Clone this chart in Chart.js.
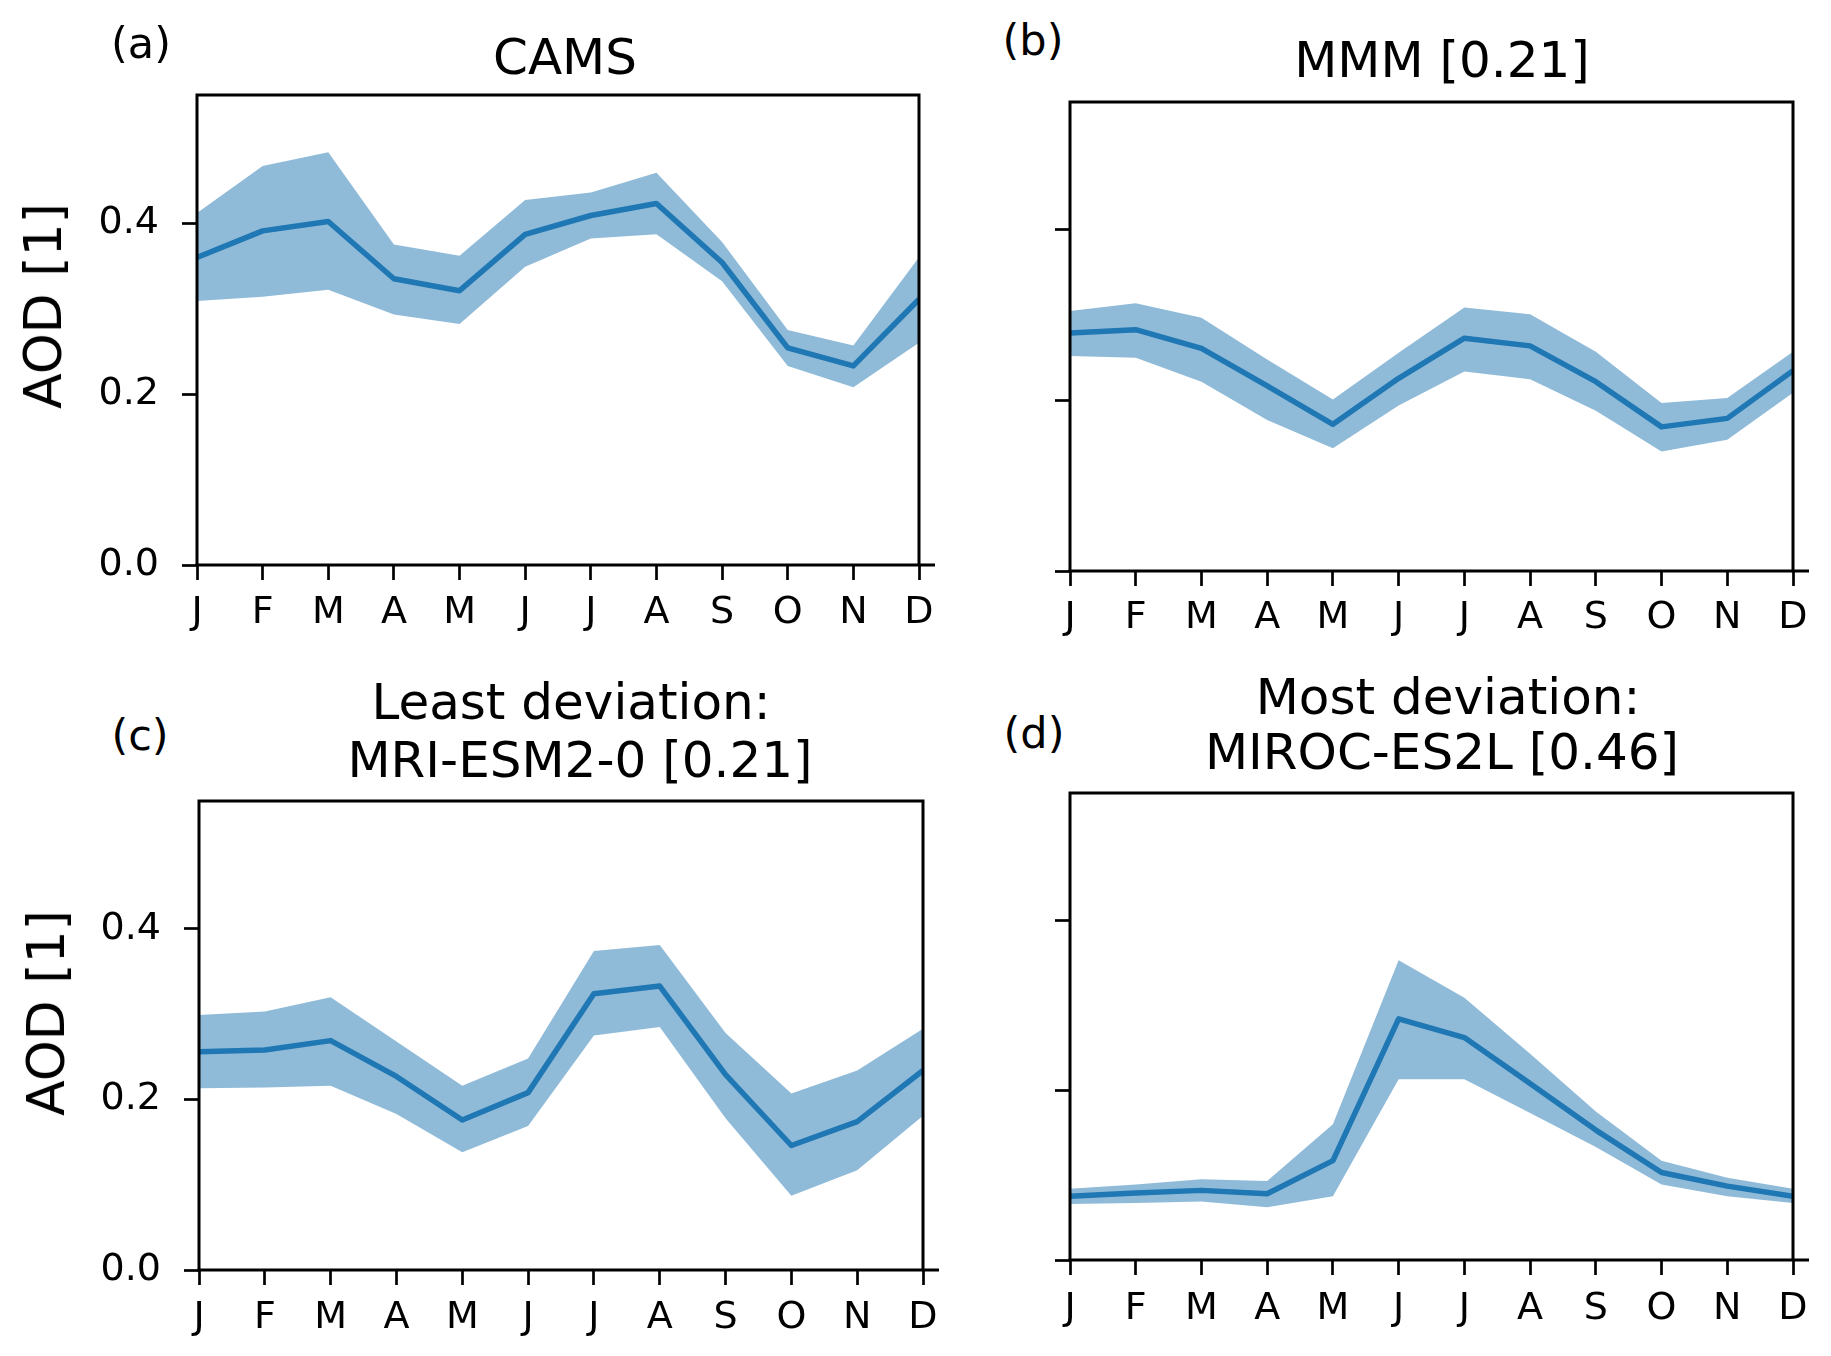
<!DOCTYPE html>
<html>
<head>
<meta charset="utf-8">
<script src="https://cdn.jsdelivr.net/npm/chart.js@4.4.0/dist/chart.umd.min.js"></script>
<style>
  html, body { margin: 0; padding: 0; background: #fff; }
  body { width: 1831px; height: 1356px; position: relative; overflow: hidden;
         font-family: "DejaVu Sans", sans-serif; color: #000; }
  canvas { position: absolute; }
  .txt { position: absolute; white-space: nowrap; line-height: 1; transform: translate(-50%, -50%); }
  .ttl { font-size: 50px; }
  .lab { font-size: 43px; }
  .ylab { font-size: 52px; transform: translate(-50%, -50%) rotate(-90deg); }
</style>
</head>
<body>
<canvas id="ca" width="960" height="590" style="left:0px;top:65px"></canvas>
<canvas id="cb" width="871" height="583" style="left:960px;top:72px"></canvas>
<canvas id="cc" width="960" height="585" style="left:0px;top:771px"></canvas>
<canvas id="cd" width="871" height="593" style="left:960px;top:763px"></canvas>

<div class="txt lab" style="left:141px;top:43px">(a)</div>
<div class="txt ttl" style="left:565px;top:57px">CAMS</div>
<div class="txt lab" style="left:1033px;top:40px">(b)</div>
<div class="txt ttl" style="left:1442px;top:60px">MMM [0.21]</div>
<div class="txt lab" style="left:140px;top:735px">(c)</div>
<div class="txt ttl" style="left:571px;top:702px">Least deviation:</div>
<div class="txt ttl" style="left:580px;top:760px">MRI-ESM2-0 [0.21]</div>
<div class="txt lab" style="left:1034px;top:733px">(d)</div>
<div class="txt ttl" style="left:1448px;top:697px">Most deviation:</div>
<div class="txt ttl" style="left:1442px;top:752px">MIROC-ES2L [0.46]</div>
<div class="txt ylab" style="left:43px;top:306px">AOD [1]</div>
<div class="txt ylab" style="left:46px;top:1013px">AOD [1]</div>

<script>
// ---- data ----
const months = ['J','F','M','A','M','J','J','A','S','O','N','D'];
const yTicks = [0.0, 0.2, 0.4];
const yMin = 0.0;
const yMax = 0.55;

const camsMean  = [0.360, 0.391, 0.402, 0.335, 0.321, 0.387, 0.409, 0.423, 0.354, 0.254, 0.233, 0.311];
const camsUpper = [0.412, 0.467, 0.483, 0.375, 0.362, 0.427, 0.436, 0.459, 0.378, 0.275, 0.257, 0.360];
const camsLower = [0.309, 0.314, 0.322, 0.293, 0.282, 0.349, 0.382, 0.387, 0.332, 0.233, 0.208, 0.260];

const mmmMean  = [0.279, 0.283, 0.261, 0.217, 0.172, 0.226, 0.273, 0.264, 0.222, 0.169, 0.179, 0.235];
const mmmUpper = [0.305, 0.314, 0.297, 0.248, 0.201, 0.256, 0.309, 0.301, 0.257, 0.197, 0.203, 0.257];
const mmmLower = [0.252, 0.250, 0.222, 0.177, 0.144, 0.194, 0.234, 0.225, 0.188, 0.140, 0.154, 0.209];

const mriMean  = [0.256, 0.258, 0.269, 0.227, 0.176, 0.208, 0.324, 0.333, 0.229, 0.146, 0.174, 0.234];
const mriUpper = [0.299, 0.303, 0.320, 0.268, 0.216, 0.248, 0.374, 0.381, 0.278, 0.207, 0.234, 0.283];
const mriLower = [0.213, 0.214, 0.216, 0.183, 0.138, 0.169, 0.275, 0.285, 0.178, 0.087, 0.117, 0.181];

const mirocMean  = [0.075, 0.079, 0.082, 0.078, 0.117, 0.284, 0.262, 0.208, 0.153, 0.103, 0.087, 0.075];
const mirocUpper = [0.084, 0.089, 0.095, 0.093, 0.160, 0.353, 0.309, 0.243, 0.175, 0.117, 0.097, 0.084];
const mirocLower = [0.066, 0.067, 0.069, 0.062, 0.075, 0.213, 0.213, 0.173, 0.133, 0.089, 0.075, 0.067];

// ---- styling / helpers ----
const LINE = '#1f77b4';
const BAND = 'rgba(31,119,180,0.5)';

const framePlugin = {
  id: 'frame',
  afterDatasetsDraw(chart) {
    const a = chart.chartArea, ctx = chart.ctx;
    ctx.save();
    ctx.strokeStyle = '#000';
    ctx.lineWidth = 3;
    ctx.lineCap = 'butt';
    ctx.beginPath();
    ctx.moveTo(a.left, a.bottom);
    ctx.lineTo(a.left, a.top);
    ctx.lineTo(a.right, a.top);
    ctx.lineTo(a.right, a.bottom);
    ctx.stroke();
    ctx.beginPath();
    ctx.moveTo(a.left - 1.5, a.bottom);
    ctx.lineTo(a.right + 16, a.bottom);
    ctx.stroke();
    ctx.restore();
  }
};

function zeroPad(s) { s.paddingTop = 0; s.paddingBottom = 0; s.paddingLeft = 0; s.paddingRight = 0; }

function makePanel(id, mean, upper, lower, yWidth, xHeight, padTop, padRight, xPad, showY) {
  new Chart(document.getElementById(id), {
    type: 'line',
    data: {
      labels: months,
      datasets: [
        { data: mean, borderColor: LINE, borderWidth: 5.5, pointRadius: 0, fill: false,
          borderJoinStyle: 'round', tension: 0, clip: 0 },
        { data: upper, borderWidth: 0, borderColor: 'rgba(0,0,0,0)', backgroundColor: BAND,
          pointRadius: 0, fill: '+1', tension: 0, clip: 0 },
        { data: lower, borderWidth: 0, borderColor: 'rgba(0,0,0,0)', backgroundColor: BAND,
          pointRadius: 0, fill: false, tension: 0, clip: 0 }
      ]
    },
    options: {
      responsive: false,
      animation: false,
      devicePixelRatio: 1,
      layout: { padding: { top: padTop, right: padRight, left: 0, bottom: 0 } },
      plugins: { legend: { display: false }, tooltip: { enabled: false }, title: { display: false } },
      events: [],
      scales: {
        x: {
          type: 'category',
          offset: false,
          grid: { drawOnChartArea: false, drawTicks: true, tickLength: 15, tickWidth: 2.7,
                  color: '#000', offset: false },
          border: { display: false },
          ticks: { color: '#000', font: { family: 'DejaVu Sans', size: 38 }, padding: xPad,
                   maxRotation: 0, minRotation: 0, autoSkip: false },
          afterFit(s) { s.height = xHeight; zeroPad(s); }
        },
        y: {
          type: 'linear',
          min: yMin, max: yMax,
          grid: { drawOnChartArea: false, drawTicks: true, tickLength: 15, tickWidth: 2.7, color: '#000' },
          border: { display: false },
          ticks: { color: '#000', font: { family: 'DejaVu Sans', size: 38 }, padding: 23,
                   callback: (v) => showY ? Number(v).toFixed(1) : '' },
          afterBuildTicks(s) { s.ticks = yTicks.map(v => ({ value: v })); },
          afterFit(s) { s.width = yWidth; zeroPad(s); }
        }
      }
    },
    plugins: [framePlugin]
  });
}

makePanel('ca', camsMean,  camsUpper,  camsLower,  197, 90, 30, 41, 10, true);
makePanel('cb', mmmMean,   mmmUpper,   mmmLower,   110, 84, 30, 38, 9, false);
makePanel('cc', mriMean,   mriUpper,   mriLower,   199, 86, 30, 37, 10, true);
makePanel('cd', mirocMean, mirocUpper, mirocLower, 110, 96, 30, 38, 11, false);
</script>
</body>
</html>
